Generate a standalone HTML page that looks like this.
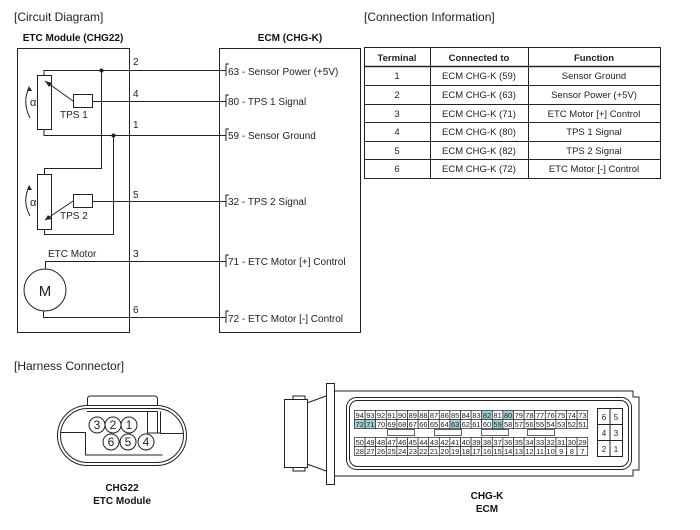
<!DOCTYPE html>
<html><head><meta charset="utf-8"><style>
body{margin:0;background:#fff}
svg{display:block;font-family:"Liberation Sans",Arial,sans-serif}
</style></head><body>
<svg width="700" height="530" viewBox="0 0 700 530" xmlns="http://www.w3.org/2000/svg">
<g font-size="12" fill="#222">
<text x="14" y="21">[Circuit Diagram]</text>
<text x="364" y="21">[Connection Information]</text>
<text x="14" y="370">[Harness Connector]</text>
</g>
<g font-size="10" font-weight="bold" fill="#111">
<text x="73" y="41" text-anchor="middle">ETC Module (CHG22)</text>
<text x="290" y="41" text-anchor="middle">ECM (CHG-K)</text>
</g>
<g fill="none" stroke="#222" stroke-width="1">
<rect x="17.5" y="48.5" width="112" height="284"/>
<rect x="219.5" y="48.5" width="141" height="284"/>
<polyline points="44,75 44,70.5 226,70.5"/>
<line x1="92" y1="101.5" x2="226" y2="101.5"/>
<polyline points="44,129 44,135.5 226,135.5"/>
<polyline points="101.5,70 101.5,168.5 44.5,168.5 44.5,174"/>
<polyline points="113.5,135 113.5,234.5 44.5,234.5 44.5,229"/>
<line x1="92" y1="201.5" x2="226" y2="201.5"/>
<polyline points="45.5,269 45.5,261.5 226,261.5"/>
<polyline points="43.5,311 43.5,317.5 226,317.5"/>
<rect x="37.5" y="75.5" width="14" height="54"/>
<rect x="37.5" y="174.5" width="14" height="55"/>
<rect x="73.5" y="94.5" width="19" height="13"/>
<rect x="73.5" y="194.5" width="19" height="13"/>
<line x1="73" y1="101" x2="45" y2="81"/>
<line x1="73" y1="201" x2="45" y2="220"/>
<path d="M30,118 Q22,102 29,88"/>
<path d="M30,216 Q22,201 29,187"/>
<circle cx="45" cy="290" r="21"/>
<path d="M229,64 h-3 v12 M229,95 h-3 v12 M229,129 h-3 v12 M229,195 h-3 v12 M229,255 h-3 v12 M229,311 h-3 v12"/>
</g>
<g fill="#222">
<circle cx="101.5" cy="70.5" r="2"/><circle cx="113.5" cy="135.5" r="2"/>
<path d="M45,81 l7,2 -3,4z"/><path d="M45,220 l3,-5 4,4z"/>
<path d="M29,86 l3,5 -5,0z"/><path d="M29,185 l3,5 -5,0z"/>
</g>
<g font-size="10" fill="#222">
<text x="133" y="65">2</text><text x="133" y="97">4</text><text x="133" y="128">1</text>
<text x="133" y="198">5</text><text x="133" y="257">3</text><text x="133" y="313">6</text>
<text x="30" y="106" font-size="11">α</text><text x="30" y="206" font-size="11">α</text>
<text x="60" y="118">TPS 1</text><text x="60" y="219">TPS 2</text>
<text x="48" y="257">ETC Motor</text>
<text x="45" y="296" font-size="15" text-anchor="middle">M</text>
<text x="228" y="75">63 - Sensor Power (+5V)</text>
<text x="228" y="105">80 - TPS 1 Signal</text>
<text x="228" y="139">59 - Sensor Ground</text>
<text x="228" y="205">32 - TPS 2 Signal</text>
<text x="228" y="265">71 - ETC Motor [+] Control</text>
<text x="228" y="322">72 - ETC Motor [-] Control</text>
</g>
<g fill="none" stroke="#222" stroke-width="1">
<rect x="364.5" y="47.5" width="296" height="131"/>
<line x1="430.5" y1="47" x2="430.5" y2="179"/><line x1="528.5" y1="47" x2="528.5" y2="179"/>
<line x1="364" y1="66.5" x2="661" y2="66.5" stroke-width="1.5"/>
<line x1="364" y1="85.5" x2="661" y2="85.5"/><line x1="364" y1="104.5" x2="661" y2="104.5"/>
<line x1="364" y1="122.5" x2="661" y2="122.5"/><line x1="364" y1="141.5" x2="661" y2="141.5"/>
<line x1="364" y1="159.5" x2="661" y2="159.5"/>
</g>
<g font-size="9.5" fill="#222" text-anchor="middle">
<g font-weight="bold"><text x="397" y="61">Terminal</text><text x="479" y="61">Connected to</text><text x="594" y="61">Function</text></g>
<text x="397" y="79">1</text><text x="479" y="79">ECM CHG-K (59)</text><text x="594" y="79">Sensor Ground</text>
<text x="397" y="98">2</text><text x="479" y="98">ECM CHG-K (63)</text><text x="594" y="98">Sensor Power (+5V)</text>
<text x="397" y="117">3</text><text x="479" y="117">ECM CHG-K (71)</text><text x="594" y="117">ETC Motor [+] Control</text>
<text x="397" y="135">4</text><text x="479" y="135">ECM CHG-K (80)</text><text x="594" y="135">TPS 1 Signal</text>
<text x="397" y="154">5</text><text x="479" y="154">ECM CHG-K (82)</text><text x="594" y="154">TPS 2 Signal</text>
<text x="397" y="172">6</text><text x="479" y="172">ECM CHG-K (72)</text><text x="594" y="172">ETC Motor [-] Control</text>
</g>
<!-- CHG22 connector -->
<g fill="none" stroke="#222" stroke-width="1">
<path d="M87.5,405 v-6 q0,-3 3,-3 h64 q3,0 3,3 v6"/>
<rect x="57.5" y="405.5" width="129" height="60" rx="30" fill="#fff"/>
<rect x="60.5" y="408.5" width="123" height="54" rx="27"/>
<path d="M87,411.5 h70.5 M147.5,411.5 v21.5 h13 v-21.5 M157.5,411.5 v21.5"/>
<path d="M61,432.5 h24.5 v22.5 h77 M160.5,433.5 h23"/>
<circle cx="97" cy="425" r="8"/><circle cx="113" cy="425" r="8"/><circle cx="129" cy="425" r="8"/>
<circle cx="111" cy="442" r="8"/><circle cx="128" cy="442" r="8"/><circle cx="146" cy="442" r="8"/>
</g>
<g font-size="12" fill="#222" text-anchor="middle">
<text x="97" y="429">3</text><text x="113" y="429">2</text><text x="129" y="429">1</text>
<text x="111" y="446">6</text><text x="128" y="446">5</text><text x="146" y="446">4</text>
</g>
<g font-size="10" font-weight="bold" fill="#111" text-anchor="middle">
<text x="122" y="491">CHG22</text><text x="122" y="504">ETC Module</text>
<text x="487" y="499">CHG-K</text><text x="487" y="512">ECM</text>
</g>
<!-- ECM connector -->
<g fill="none" stroke="#222" stroke-width="1">
<rect x="284.5" y="399.5" width="23" height="68"/>
<path d="M293,400 v-4 h12 v4 M293,467 v4 h12 v-4"/>
<rect x="326.5" y="383.5" width="8" height="101"/>
<path d="M307,403 l19,-7 M307,464 l19,7"/>
<path d="M335,391 h298 v6 h6 v73 h-6 v6 h-298"/>
<rect x="346.5" y="397.5" width="285" height="72" rx="10"/>
<rect x="349.5" y="400.5" width="279" height="66" rx="8"/>
<rect x="597.5" y="408.5" width="25" height="48"/>
<line x1="610" y1="408" x2="610" y2="457"/><line x1="597" y1="424.5" x2="623" y2="424.5"/><line x1="597" y1="440.5" x2="623" y2="440.5"/>
</g>
<g id="pins"></g>
<g font-size="8" fill="#222" text-anchor="middle">
<text x="604" y="420">6</text><text x="616" y="420">5</text>
<text x="604" y="436">4</text><text x="616" y="436">3</text>
<text x="604" y="452">2</text><text x="616" y="452">1</text>
</g>
<script>
(function(){
var g=document.getElementById('pins'),ns='http://www.w3.org/2000/svg';
var rows=[[94,73,410],[72,51,419],[50,29,437],[28,7,446]];
var hl={82:1,80:1,72:1,71:1,63:1,59:1};
var w=10.6,x0=354;
rows.forEach(function(r){
 for(var i=0;i<=r[0]-r[1];i++){
  var n=r[0]-i,x=x0+i*w;
  var rc=document.createElementNS(ns,'rect');
  rc.setAttribute('x',x+0.5);rc.setAttribute('y',r[2]+0.5);rc.setAttribute('width',w);rc.setAttribute('height',9);
  rc.setAttribute('fill',hl[n]?'#9fcfd3':'#fff');rc.setAttribute('stroke','#222');rc.setAttribute('stroke-width','0.7');
  g.appendChild(rc);
  var t=document.createElementNS(ns,'text');
  t.setAttribute('x',x+w/2+0.5);t.setAttribute('y',r[2]+8);t.setAttribute('font-size','7.5');t.setAttribute('text-anchor','middle');t.setAttribute('fill','#222');
  t.textContent=n;g.appendChild(t);
 }
});
[[387,414],[434,461],[481,508],[527,554]].forEach(function(b){
 var rc=document.createElementNS(ns,'rect');
 rc.setAttribute('x',b[0]+0.5);rc.setAttribute('y',429.5);rc.setAttribute('width',b[1]-b[0]);rc.setAttribute('height',6);
 rc.setAttribute('fill','#fff');rc.setAttribute('stroke','#222');rc.setAttribute('stroke-width','0.7');g.appendChild(rc);
});
})();
</script>
</svg>
</body></html>
